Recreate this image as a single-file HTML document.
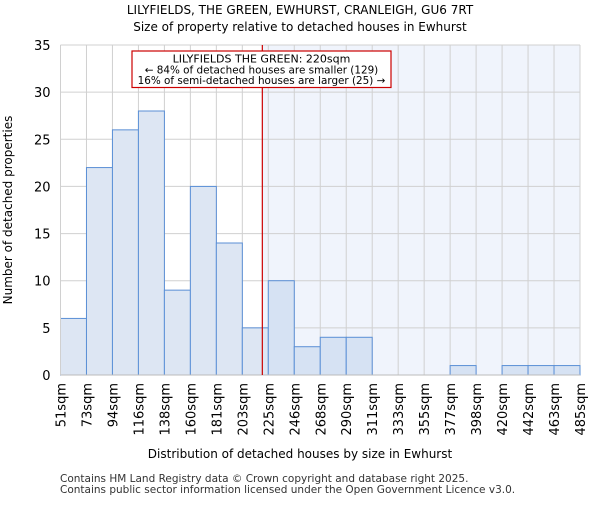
<!DOCTYPE html>
<html><head><meta charset="utf-8"><style>body{margin:0;background:#fff}svg{font-family:"DejaVu Sans","Liberation Sans",sans-serif}</style></head>
<body>
<svg id="chart" width="600" height="500" xmlns="http://www.w3.org/2000/svg">
<text x="300" y="14" text-anchor="middle" font-size="12">LILYFIELDS, THE GREEN, EWHURST, CRANLEIGH, GU6 7RT</text>
<text x="300" y="31" text-anchor="middle" font-size="12">Size of property relative to detached houses in Ewhurst</text>
<g id="plot"></g>
<text x="300" y="458" text-anchor="middle" font-size="12">Distribution of detached houses by size in Ewhurst</text>
<text transform="translate(12,210) rotate(-90)" text-anchor="middle" font-size="12">Number of detached properties</text>
<text x="60" y="482" font-size="10.5" fill="#333">Contains HM Land Registry data © Crown copyright and database right 2025.</text>
<text x="60" y="493" font-size="10.5" fill="#333">Contains public sector information licensed under the Open Government Licence v3.0.</text>
</svg>
<script>
const categories=["51sqm","73sqm","94sqm","116sqm","138sqm","160sqm","181sqm","203sqm","225sqm","246sqm","268sqm","290sqm","311sqm","333sqm","355sqm","377sqm","398sqm","420sqm","442sqm","463sqm","485sqm"];
const counts=[6,22,26,28,9,20,14,5,10,3,4,4,0,0,0,1,0,1,1,1];
const yTicks=[0,5,10,15,20,25,30,35];
const markerBin=7.77;
const NS="http://www.w3.org/2000/svg";
const L=60.5,R=580,T=45,B=375,yMax=35;
const bw=(R-L)/counts.length;
const xs=i=>L+i*bw;
const ys=v=>B-(v/yMax)*(B-T);
const g=document.getElementById('plot');
function mk(t,a){const e=document.createElementNS(NS,t);for(const k in a)e.setAttribute(k,a[k]);g.appendChild(e);return e;}
const mx=xs(markerBin);
let e=mk('rect',{x:mx,y:T,width:R-mx,height:B-T,fill:'#f0f4fc'});


for(let i=0;i<=counts.length;i++){e=mk('line',{x1:xs(i),x2:xs(i),y1:T,y2:B,stroke:'#d0d0d0','stroke-width':1});

}
yTicks.forEach(v=>{e=mk('line',{x1:L,x2:R,y1:ys(v),y2:ys(v),stroke:'#d0d0d0','stroke-width':1});


e=mk('text',{x:L-10,y:ys(v)+5,'text-anchor':'end','font-size':13});e.textContent=v;

});
counts.forEach((v,i)=>{if(v<=0)return;e=mk('rect',{x:xs(i),y:ys(v),width:bw,height:B-ys(v),fill:i>=8?'#d6e2f3':'#dde6f3',stroke:'#5a8fd6','stroke-width':1});

});
categories.forEach((c,i)=>{e=mk('text',{transform:`translate(${xs(i)+5},383) rotate(-90)`,'text-anchor':'end','font-size':13});e.textContent=c;

});
e=mk('line',{x1:L,x2:L,y1:T,y2:B,stroke:'#d0d0d0'});


e=mk('line',{x1:L,x2:R,y1:B,y2:B,stroke:'#bbb'});


e=mk('line',{x1:mx,x2:mx,y1:T,y2:B,stroke:'#cc0000','stroke-width':1.2});


e=mk('rect',{x:132,y:51,width:259,height:36.5,fill:'#fff',stroke:'#cc0000','stroke-width':1.2});


[["LILYFIELDS THE GREEN: 220sqm",62.5],["← 84% of detached houses are smaller (129)",73.5],["16% of semi-detached houses are larger (25) →",84]].forEach(([t,y],k)=>{e=mk('text',{x:261.5,y:y,'text-anchor':'middle','font-size':k?10.4:11});e.textContent=t;

});
</script>
</body></html>
